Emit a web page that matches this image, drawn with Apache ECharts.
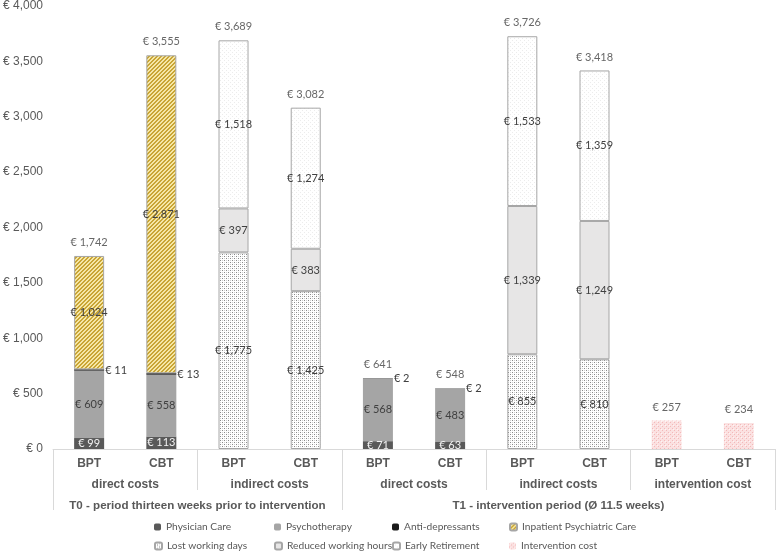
<!DOCTYPE html>
<html>
<head>
<meta charset="utf-8">
<script src="https://cdn.jsdelivr.net/npm/echarts@6/dist/echarts.min.js"></script>
<style>
html,body{margin:0;padding:0;background:#fff;}
#chart{width:778px;height:554px;}
</style>
</head>
<body>
<div id="chart"></div>
<script>
// ---------- data ----------
const categories = ['BPT','CBT','BPT','CBT','BPT','CBT','BPT','CBT','BPT','CBT'];
const groupLabels = ['direct costs','indirect costs','direct costs','indirect costs','intervention cost'];
const periodLabels = ['T0 - period thirteen weeks prior to intervention','T1 - intervention period (\u00D8 11.5 weeks)'];
const periodBarCounts = [4, 6];

const physicianCare    = [99, 113, 0, 0, 71, 63, 0, 0, 0, 0];
const psychotherapy    = [609, 558, 0, 0, 568, 483, 0, 0, 0, 0];
const antiDepressants  = [11, 13, 0, 0, 2, 2, 0, 0, 0, 0];
const inpatientCare    = [1024, 2871, 0, 0, 0, 0, 0, 0, 0, 0];
const lostWorkingDays  = [0, 0, 1775, 1425, 0, 0, 855, 810, 0, 0];
const reducedHours     = [0, 0, 397, 383, 0, 0, 1339, 1249, 0, 0];
const earlyRetirement  = [0, 0, 1518, 1274, 0, 0, 1533, 1359, 0, 0];
const interventionCost = [0, 0, 0, 0, 0, 0, 0, 0, 257, 234];
const totals           = [1742, 3555, 3689, 3082, 641, 548, 3726, 3418, 257, 234];

const yMin = 0, yMax = 4000, yStep = 500;

// legend layout: two rows, four columns
const legendRows = [
  ['Physician Care', 'Psychotherapy', 'Anti-depressants', 'Inpatient Psychiatric Care'],
  ['Lost working days', 'Reduced working hours', 'Early Retirement', 'Intervention cost']
];

// ---------- helpers ----------
const fmt = v => '\u20AC ' + Number(v).toLocaleString('en-US');
const clean = arr => arr.map(v => v === 0 ? '-' : v);

function pattern(size, bg, dots) {
  const c = document.createElement('canvas');
  c.width = size; c.height = size;
  const g = c.getContext('2d');
  g.fillStyle = bg; g.fillRect(0, 0, size, size);
  dots.forEach(d => { g.fillStyle = d[2]; g.fillRect(d[0], d[1], 1, 1); });
  return { image: c, repeat: 'repeat' };
}
function stripes(bg, fg) {
  const c = document.createElement('canvas');
  c.width = 4; c.height = 4;
  const g = c.getContext('2d');
  g.fillStyle = bg; g.fillRect(0, 0, 4, 4);
  g.fillStyle = fg;
  for (let x = 0; x < 4; x++) for (let y = 0; y < 4; y++) if ((x + y) % 4 < 2) g.fillRect(x, y, 1, 1);
  return { image: c, repeat: 'repeat' };
}

const patInpatient = stripes('#f6e7a6', '#c9a535');
const patLost = pattern(4, '#ffffff', [[0,0,'#8a8a8a'],[2,2,'#8a8a8a'],[2,0,'#cfcfcf'],[0,2,'#cfcfcf']]);
const patRetire = pattern(4, '#ffffff', [[0,0,'#ececec'],[2,2,'#ececec']]);
const patInterv = pattern(4, '#fbe1e1', [[0,0,'#f3b9b9'],[2,2,'#f3b9b9'],[1,1,'#fff4f4']]);

// multi-level axis helper arrays (half-category positions)
const halfN = categories.length * 2 + 1;
const groupHalf = Array(halfN).fill('');
groupLabels.forEach((g, i) => { groupHalf[2 + 4 * i] = g; });
const periodHalf = Array(halfN).fill('');
const periodBounds = [0];
let acc = 0;
periodBarCounts.forEach((n, i) => { periodHalf[acc * 2 + n] = periodLabels[i]; acc += n; periodBounds.push(acc * 2); });

const labelFont = 'Lato, "Liberation Sans", sans-serif';
const axisFont = '"Liberation Sans", Arial, sans-serif';
const lblColor = '#404040';
const border = '#a6a6a6';

function barSeries(name, data, color, opts) {
  opts = opts || {};
  return {
    name: name, type: 'bar', stack: 'cost', barWidth: 30, xAxisIndex: 0,
    data: clean(data),
    itemStyle: Object.assign({ color: color }, opts.itemStyle || {}),
    emphasis: { disabled: true },
    label: Object.assign({
      show: true, position: 'inside', formatter: p => fmt(p.value),
      fontFamily: labelFont, fontSize: 11, color: lblColor
    }, opts.label || {})
  };
}

const series = [
  barSeries('Physician Care', physicianCare, '#595959', { label: { color: '#f2f2f2' } }),
  barSeries('Psychotherapy', psychotherapy, '#a5a5a5'),
  barSeries('Anti-depressants', antiDepressants, '#1a1a1a', { label: { position: 'right', distance: 1 } }),
  barSeries('Inpatient Psychiatric Care', inpatientCare, patInpatient, { itemStyle: { borderColor: border, borderWidth: 1 } }),
  barSeries('Lost working days', lostWorkingDays, patLost, { itemStyle: { borderColor: border, borderWidth: 1 } }),
  barSeries('Reduced working hours', reducedHours, '#e7e6e6', { itemStyle: { borderColor: border, borderWidth: 1 } }),
  barSeries('Early Retirement', earlyRetirement, patRetire, { itemStyle: { borderColor: border, borderWidth: 1 } }),
  barSeries('Intervention cost', interventionCost, patInterv, { label: { show: false } }),
  {
    name: 'Total', type: 'scatter', xAxisIndex: 0, data: totals,
    symbolSize: 0, itemStyle: { color: 'transparent' }, emphasis: { disabled: true },
    label: { show: true, position: 'top', distance: 8, formatter: p => fmt(p.value),
      fontFamily: labelFont, fontSize: 11, color: lblColor }
  }
];

const colLefts = [154, 274, 392, 509];
const rowTops = [522, 541];
const legends = [];
legendRows.forEach((row, r) => row.forEach((name, c) => {
  legends.push({
    orient: 'horizontal', left: colLefts[c], top: rowTops[r], padding: 0,
    itemWidth: 7, itemHeight: 7, itemGap: 5,
    data: [name], selectedMode: false,
    textStyle: { fontFamily: labelFont, fontSize: 10.2, color: '#595959' }
  });
}));

const option = {
  animation: false,
  backgroundColor: '#ffffff',
  grid: { left: 52, right: 1, top: 5, bottom: 105, containLabel: false },
  legend: legends,
  xAxis: [
    {
      type: 'category', data: categories, boundaryGap: true, position: 'bottom',
      axisLine: { show: true, lineStyle: { color: '#d9d9d9', width: 1 } },
      axisTick: { show: false },
      axisLabel: { interval: 0, margin: 9, fontFamily: axisFont, fontWeight: 'bold', fontSize: 12, color: '#595959' }
    },
    {
      type: 'category', data: groupHalf, boundaryGap: false, position: 'bottom', offset: 0,
      axisLine: { show: false },
      axisTick: { show: true, interval: i => i % 4 === 0, length: 41, lineStyle: { color: '#d9d9d9' } },
      axisLabel: { interval: 0, margin: 30, fontFamily: axisFont, fontWeight: 'bold', fontSize: 12, color: '#595959' }
    },
    {
      type: 'category', data: periodHalf, boundaryGap: false, position: 'bottom', offset: 41,
      axisLine: { show: false },
      axisTick: { show: true, interval: i => periodBounds.indexOf(i) >= 0, length: 20, lineStyle: { color: '#d9d9d9' } },
      axisLabel: { interval: 0, margin: 10, fontFamily: axisFont, fontWeight: 'bold', fontSize: 11.6, color: '#595959' }
    }
  ],
  yAxis: {
    type: 'value', min: yMin, max: yMax, interval: yStep,
    axisLine: { show: false }, axisTick: { show: false }, splitLine: { show: false },
    axisLabel: { margin: 10, formatter: v => fmt(v), fontFamily: axisFont, fontSize: 12, color: '#595959' }
  },
  series: series
};

const chart = echarts.init(document.getElementById('chart'), null, { renderer: 'canvas' });
chart.setOption(option);
</script>
</body>
</html>
